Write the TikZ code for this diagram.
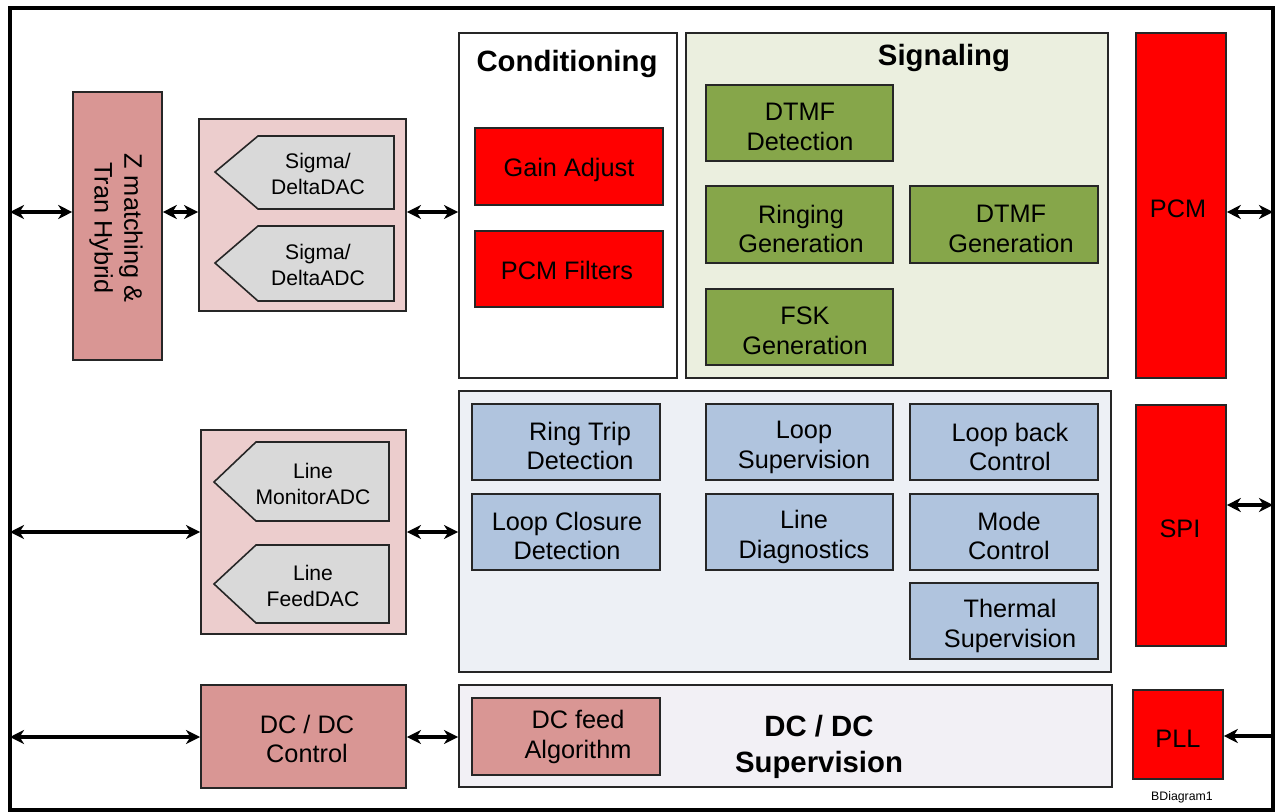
\documentclass[tikz,border=0pt]{standalone}
\usepackage{fontspec}
\setmainfont{Liberation Sans}
\usetikzlibrary{arrows.meta,fit}
\definecolor{zpink}{RGB}{217,150,148}
\definecolor{lpink}{RGB}{236,205,205}
\definecolor{pgrey}{RGB}{217,217,217}
\definecolor{sgreen}{RGB}{134,166,74}
\definecolor{sigbg}{RGB}{235,239,223}
\definecolor{bblue}{RGB}{176,196,222}
\definecolor{midbg}{RGB}{237,240,245}
\definecolor{dcbg}{RGB}{242,240,245}
\definecolor{pred}{RGB}{255,0,0}
\newcommand\mainfs{\fontsize{14.4pt}{17pt}\selectfont}
\newcommand\smallfs{\fontsize{12pt}{14.5pt}\selectfont}
\newcommand\titlefs{\fontsize{16.7pt}{20.4pt}\selectfont\bfseries}
\begin{document}
\begin{tikzpicture}[x=0.02cm,y=-0.02cm,
  blk/.style={draw=black!85, line width=0.9pt, inner sep=0pt, align=center, font=\mainfs},
  cont/.style={draw=black!85, line width=1.1pt, inner sep=0pt},
  pent/.style={draw=black!85, line width=0.9pt, fill=pgrey},
  dbl/.style={line width=1.9pt, {Stealth[length=8pt,width=8pt,inset=2.5pt]}-{Stealth[length=8pt,width=8pt,inset=2.5pt]}},
  sgl/.style={line width=1.9pt, -{Stealth[length=8pt,width=8pt,inset=2.5pt]}},
  lbl/.style={align=center, inner sep=0pt}]
\useasboundingbox (0,0) rectangle (1276,812);
% outer frame
\draw[line width=2.3pt] (10,8) rectangle (1273,810);
% frame coordinates
\coordinate (fL1) at (10,212);
\coordinate (fL2) at (10,532);
\coordinate (fL3) at (10,737);
\coordinate (fR1) at (1273,212);
\coordinate (fR2) at (1273,505);
\coordinate (fR3) at (1273,736);

% Z matching
\node[blk, fill=zpink, fit={(73,92)(162,360)}] (zm) {};
\node[lbl, font=\mainfs, rotate=-90] (zmt) at (116,228) {Z matching \&\\Tran Hybrid};

% Sigma container
\node[cont, fill=lpink, fit={(199,119)(406,311)}] (sig) {};
\draw[pent] (215,172) -- (258,136) -- (394,136) -- (394,209) -- (258,209) -- cycle;
\draw[pent] (215,263) -- (258,226) -- (394,226) -- (394,301) -- (258,301) -- cycle;
\node[lbl, font=\smallfs] (sdac) at (318,174) {Sigma/\\DeltaDAC};
\node[lbl, font=\smallfs] (sadc) at (318,265) {Sigma/\\DeltaADC};

% Line container
\node[cont, fill=lpink, fit={(201,430)(406,634)}] (lin) {};
\draw[pent] (214,482) -- (256,442) -- (389,442) -- (389,521) -- (256,521) -- cycle;
\draw[pent] (214,584) -- (256,545) -- (389,545) -- (389,623) -- (256,623) -- cycle;
\node[lbl, font=\smallfs] (lmon) at (313,484) {Line\\MonitorADC};
\node[lbl, font=\smallfs] (lfeed) at (313,586) {Line\\FeedDAC};

% DC/DC control
\node[cont, fill=zpink, fit={(201,685)(406,788)}] (dcc) {};
\node[lbl, font=\mainfs] (dcct) at (307,739) {DC / DC\\Control};

% Conditioning
\node[cont, fill=white, fit={(459,33)(677,378)}] (cond) {};
\node[lbl, font=\titlefs] (condt) at (567,64) {Conditioning};
\node[blk, fill=pred, fit={(475,128)(663,205)}] (gain) {};
\node[lbl, font=\mainfs] (gaint) at (569,170) {Gain Adjust};
\node[blk, fill=pred, fit={(475,231)(663,307)}] (pcmf) {};
\node[lbl, font=\mainfs] (pcmft) at (567,270) {PCM Filters};

% Signaling
\node[cont, fill=sigbg, fit={(686,33)(1108,378)}] (sgn) {};
\node[lbl, font=\titlefs] (sgnt) at (944,58) {Signaling};
\node[blk, fill=sgreen, fit={(706,85)(893,161)}] (dtd) {};
\node[lbl, font=\mainfs] (dtdt) at (800,127) {DTMF\\Detection};
\node[blk, fill=sgreen, fit={(706,186)(893,263)}] (rng) {};
\node[lbl, font=\mainfs] (rngt) at (801,229) {Ringing\\Generation};
\node[blk, fill=sgreen, fit={(910,186)(1098,263)}] (dtg) {};
\node[lbl, font=\mainfs] (dtgt) at (1011,229) {DTMF\\Generation};
\node[blk, fill=sgreen, fit={(706,289)(893,365)}] (fsk) {};
\node[lbl, font=\mainfs] (fskt) at (805,331) {FSK\\Generation};

% Middle container
\node[cont, fill=midbg, fit={(459,391)(1111,672)}] (mid) {};
\node[blk, fill=bblue, fit={(472,404)(660,480)}] (rtd) {};
\node[lbl, font=\mainfs] (rtdt) at (580,446) {Ring Trip\\Detection};
\node[blk, fill=bblue, fit={(472,494)(660,570)}] (lcd) {};
\node[lbl, font=\mainfs] (lcdt) at (567,536) {Loop Closure\\Detection};
\node[blk, fill=bblue, fit={(706,404)(893,480)}] (lsu) {};
\node[lbl, font=\mainfs] (lsut) at (804,447) {Loop\\Supervision};
\node[blk, fill=bblue, fit={(706,494)(893,570)}] (ldi) {};
\node[lbl, font=\mainfs] (ldit) at (804,537) {Line\\Diagnostics};
\node[blk, fill=bblue, fit={(910,404)(1098,480)}] (lbc) {};
\node[lbl, font=\mainfs] (lbct) at (1010,447) {Loop back\\Control};
\node[blk, fill=bblue, fit={(910,494)(1098,570)}] (mdc) {};
\node[lbl, font=\mainfs] (mdct) at (1009,536) {Mode\\Control};
\node[blk, fill=bblue, fit={(910,583)(1098,659)}] (ths) {};
\node[lbl, font=\mainfs] (thst) at (1010,626) {Thermal\\Supervision};

% DC/DC supervision
\node[cont, fill=dcbg, fit={(459,685)(1112,787)}] (dcs) {};
\node[lbl, font=\titlefs] (dcst) at (819,747) {DC / DC\\Supervision};
\node[blk, fill=zpink, fit={(472,698)(660,775)}] (dcf) {};
\node[lbl, font=\mainfs] (dcft) at (578,737) {DC feed\\Algorithm};

% Right column
\node[blk, fill=pred, fit={(1136,33)(1226,378)}] (pcm) {};
\node[lbl, font=\mainfs] (pcmt) at (1178,209) {PCM};
\node[blk, fill=pred, fit={(1136,405)(1226,646)}] (spi) {};
\node[lbl, font=\mainfs] (spit) at (1180,529) {SPI};
\node[blk, fill=pred, fit={(1133,690)(1223,779)}] (pll) {};
\node[lbl, font=\mainfs] (pllt) at (1178,739) {PLL};
\node[lbl, font=\fontsize{7pt}{8pt}\selectfont] (bd) at (1182,797) {BDiagram1};

% Connectors
\draw[dbl] (fL1) -- (fL1 -| zm.west);
\draw[dbl] (zm.east |- fL1) -- (sig.west |- fL1);
\draw[dbl] (sig.east |- fL1) -- (cond.west |- fL1);
\draw[dbl] (pcm.east |- fR1) -- (fR1);
\draw[dbl] (spi.east |- fR2) -- (fR2);
\draw[dbl] (fL2) -- (fL2 -| lin.west);
\draw[dbl] (lin.east |- fL2) -- (mid.west |- fL2);
\draw[dbl] (fL3) -- (fL3 -| dcc.west);
\draw[dbl] (dcc.east |- fL3) -- (dcs.west |- fL3);
\draw[sgl] (fR3) -- (fR3 -| pll.east);
\end{tikzpicture}
\end{document}
